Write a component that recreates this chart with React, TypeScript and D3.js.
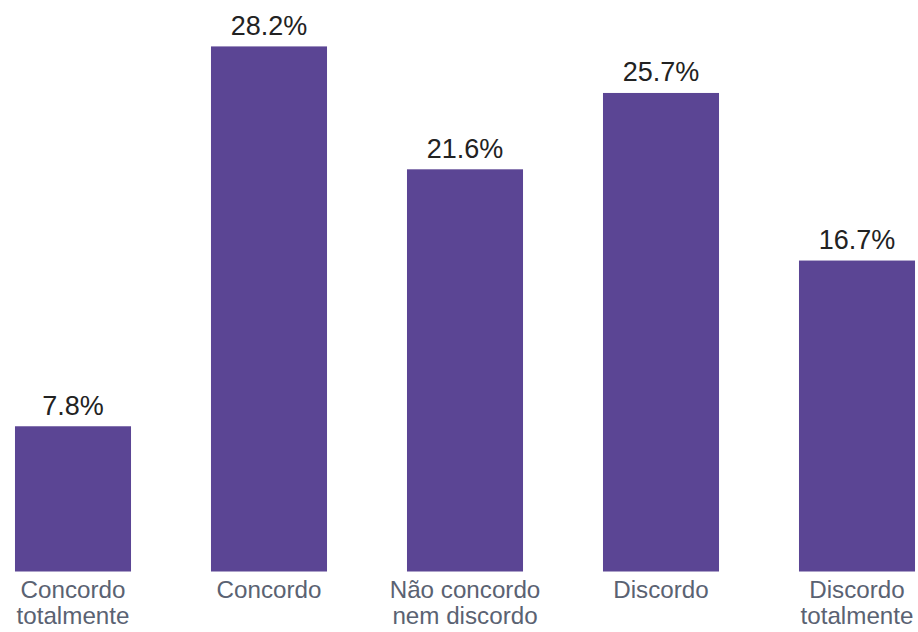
import React from "react";
import * as d3 from "d3";

const categories: string[][] = [
  ["Concordo", "totalmente"],
  ["Concordo"],
  ["Não concordo", "nem discordo"],
  ["Discordo"],
  ["Discordo", "totalmente"],
];
const values: number[] = [7.8, 28.2, 21.6, 25.7, 16.7];
const valueLabels: string[] = ["7.8%", "28.2%", "21.6%", "25.7%", "16.7%"];

const W = 918;
const H = 632;
const BASE = 571.5;

export default function App() {
  const keys = categories.map((c) => c.join(" "));
  const x = d3
    .scaleBand<string>()
    .domain(keys)
    .range([-25, 955])
    .paddingInner(0.408)
    .paddingOuter(0.204);
  const y = d3.scaleLinear().domain([0, 30]).range([BASE, BASE - 30 * 18.62]);

  return (
    <svg
      width={W}
      height={H}
      style={{ position: "fixed", left: 0, top: 0, background: "#fff" }}
      fontFamily="'Liberation Sans', Arial, sans-serif"
    >
      {values.map((v, i) => {
        const k = keys[i];
        const x0 = x(k)!;
        const cx = x0 + x.bandwidth() / 2;
        return (
          <g key={k}>
            <rect x={x0} y={y(v)} width={x.bandwidth()} height={BASE - y(v)} fill="#5b4594" />
            <text x={cx} y={y(v) - 11.5} textAnchor="middle" fontSize={27} fill="#222">
              {valueLabels[i]}
            </text>
            {categories[i].map((line, j) => (
              <text
                key={j}
                x={cx}
                y={598 + j * 25.5}
                textAnchor="middle"
                fontSize={24.2}
                fill="#5a6272"
              >
                {line}
              </text>
            ))}
          </g>
        );
      })}
    </svg>
  );
}
